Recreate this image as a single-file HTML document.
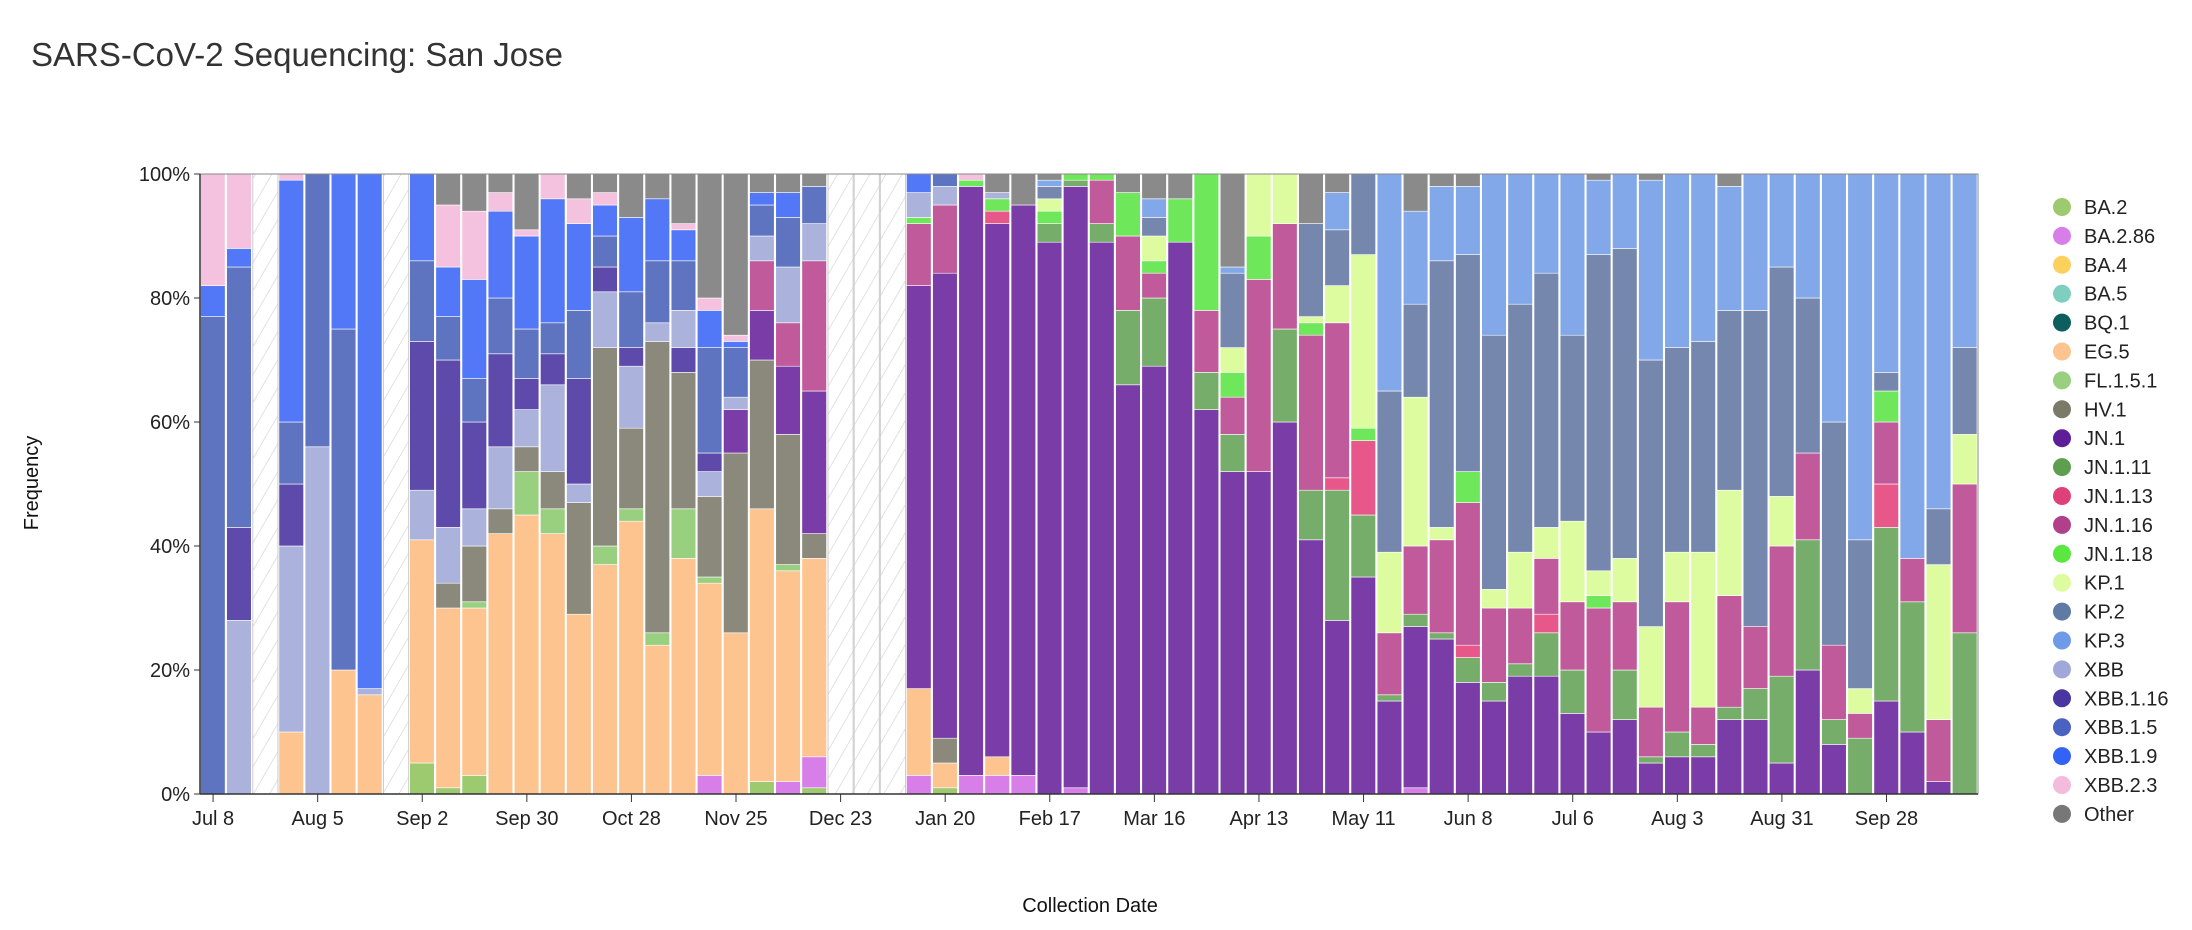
<!DOCTYPE html>
<html><head><meta charset="utf-8"><style>
body{margin:0;background:#fff;font-family:"Liberation Sans",sans-serif;}
svg{display:block}
</style></head><body>
<svg id="s" width="2192" height="930" xmlns="http://www.w3.org/2000/svg">
<defs><pattern id="h" patternUnits="userSpaceOnUse" width="14" height="14" patternTransform="rotate(30)"><rect width="14" height="14" fill="#fff"/><line x1="0" y1="0" x2="0" y2="14" stroke="#d8d8d8" stroke-width="1.5"/></pattern></defs>
<text x="31" y="66" font-size="33" fill="#333">SARS-CoV-2 Sequencing: San Jose</text>
<text x="1090" y="912" font-size="20" text-anchor="middle" fill="#111">Collection Date</text>
<text transform="translate(38,483) rotate(-90)" font-size="20" text-anchor="middle" fill="#111">Frequency</text>
<g id="g"></g>
</svg>
<script>
const C={a:'#9dc96f',b:'#d77ee8',e:'#fdc490',f:'#98d080',h:'#8a897c',j:'#7a3da8',k:'#76ad6a',m:'#e8578a',n:'#c05a9a',o:'#6ee85a',p:'#ddfca0',q:'#7587ad',r:'#82a8ea',x:'#abb3dd',y:'#5d4aab',z:'#5f74c0',w:'#5277f7',v:'#f4c2de',t:'#8a8a8a'};
const D=["z77w82v100","x28y43z85w88v100","","e10x40y50z60w99v100","x56z100","e20z75w100","e16x17w100","",
"a5e41x49y73z86w100","a1e30h34x43y70z77w85v95t100","a3e30f31h40x46y60z67w83v94t100","e42h46x56y71z80w94v97t100","e45f52h56x62y67z75w90v91t100","e42f46h52x66y71z76w96v100","e29h47x50y67z78w92v96t100","e37f40h72x81y85z90w95v97t100",
"e44f46h59x69y72z81w93t100","e24f26h73x76z86w96t100","e38f46h68y72x78z86w91v92t100","b3e34f35h48x52y55z72w78v80t100","e26h55j62x64z72w73v74t100","a2e46h70j78n86x90z95w97t100","b2e36f37h58j69n76x85z93w97t100","a1b6e38h42j65n86x92z98t100",
"","","","b3e17j82n92o93x97w100","a1e5h9j84n95x98z100","b3j98o99v100","b3e6j92m94o96x97t100","b3j95t100",
"j89k92o94p96q98r99t100","b1j98k99o100","j89k92n99o100","j66k78n90o97t100","j69k80n84o86p90q93r96t100","j89o96t100","j62k68n78o100","j52k58n64o68p72q84r85t100",
"j52n83o90p100","j60k75n92p100","j41k49n74o76p77q92t100","j28k49m51n76p82q91r97t100","j35k45m57o59p87q100","j15k16n26p39q65r100","b1j27k29n40p64q79r94t100","j25k26n41p43q86r98t100",
"j18k22m24n47o52q87r98t100","j15k18n30p33q74r100","j19k21n30p39q79r100","j19k26m29n38p43q84r100","j13k20n31p44q74r100","j10n30o32p36q87r99t100","j12k20n31p38q88r100","j5k6n14p27q70r99t100",
"j6k10n31p39q72r100","j6k8n14p39q73r100","j12k14n32p49q78r98t100","j12k17n27q78r100","j5k19n40p48q85r100","j20k41n55q80r100","j8k12n24q60r100","k9n13p17q41r100",
"j15k43m50n60o65q68r100","j10k31n38r100","j2n12p37q46r100","k26n50p58q72r100"];
const x0=200,x1=1978,y0=174,y1=794,H=y1-y0,W=(x1-x0)/68;
let s='';
D.forEach((d,i)=>{const x=x0+i*W;
 if(!d){s+=`<rect x="${x+0.5}" y="${y0}" width="${W-1}" height="${H}" fill="url(#h)" stroke="#ccc" stroke-width="1"/>`;return;}
 let prev=0;const re=/([a-z])(\d+)/g;let m;
 while((m=re.exec(d))){const top=+m[2];const ya=y1-top/100*H,yb=y1-prev/100*H;
  s+=`<rect x="${x+0.5}" y="${ya}" width="${W-1.5}" height="${yb-ya}" fill="${C[m[1]]}" stroke="#fff" stroke-width="0.6"/>`;prev=top;}
});
s+=`<rect x="${x0}" y="${y0}" width="${x1-x0}" height="${H}" fill="none" stroke="#888" stroke-width="1"/>`;
s+=`<line x1="${x0}" y1="${y0}" x2="${x0}" y2="${y1}" stroke="#333" stroke-width="1.5"/><line x1="${x0}" y1="${y1}" x2="${x1}" y2="${y1}" stroke="#333" stroke-width="1.5"/>`;
for(let k=0;k<=5;k++){const y=y1-k*H/5;s+=`<line x1="${x0-6}" y1="${y}" x2="${x0}" y2="${y}" stroke="#333"/><text x="${x0-10}" y="${y+7}" font-size="20" text-anchor="end" fill="#222">${k*20}%</text>`;}
const L=["Jul 8","Aug 5","Sep 2","Sep 30","Oct 28","Nov 25","Dec 23","Jan 20","Feb 17","Mar 16","Apr 13","May 11","Jun 8","Jul 6","Aug 3","Aug 31","Sep 28"];
L.forEach((l,k)=>{const x=x0+(4*k+0.5)*W;s+=`<line x1="${x}" y1="${y1}" x2="${x}" y2="${y1+8}" stroke="#333"/><text x="${x}" y="${y1+31}" font-size="20" text-anchor="middle" fill="#222">${l}</text>`;});
const LG=[["BA.2","#9dc96f"],["BA.2.86","#d77ee8"],["BA.4","#fcd05c"],["BA.5","#7fcfc0"],["BQ.1","#0d5e5e"],["EG.5","#fdc490"],["FL.1.5.1","#98d080"],["HV.1","#7a7a68"],["JN.1","#5e1e9a"],["JN.1.11","#5e9e50"],["JN.1.13","#e0407a"],["JN.1.16","#b0408a"],["JN.1.18","#5ae840"],["KP.1","#ddfca0"],["KP.2","#607aa6"],["KP.3","#6e9be8"],["XBB","#a0a8da"],["XBB.1.16","#4a36a0"],["XBB.1.5","#4a62c0"],["XBB.1.9","#3262f6"],["XBB.2.3","#f4bcdc"],["Other","#777"]];
LG.forEach((l,k)=>{const y=207+k*28.9;s+=`<circle cx="2062" cy="${y}" r="9" fill="${l[1]}"/><text x="2084" y="${y+7}" font-size="20" fill="#222">${l[0]}</text>`;});
document.getElementById('g').innerHTML=s;
</script>
</body></html>
